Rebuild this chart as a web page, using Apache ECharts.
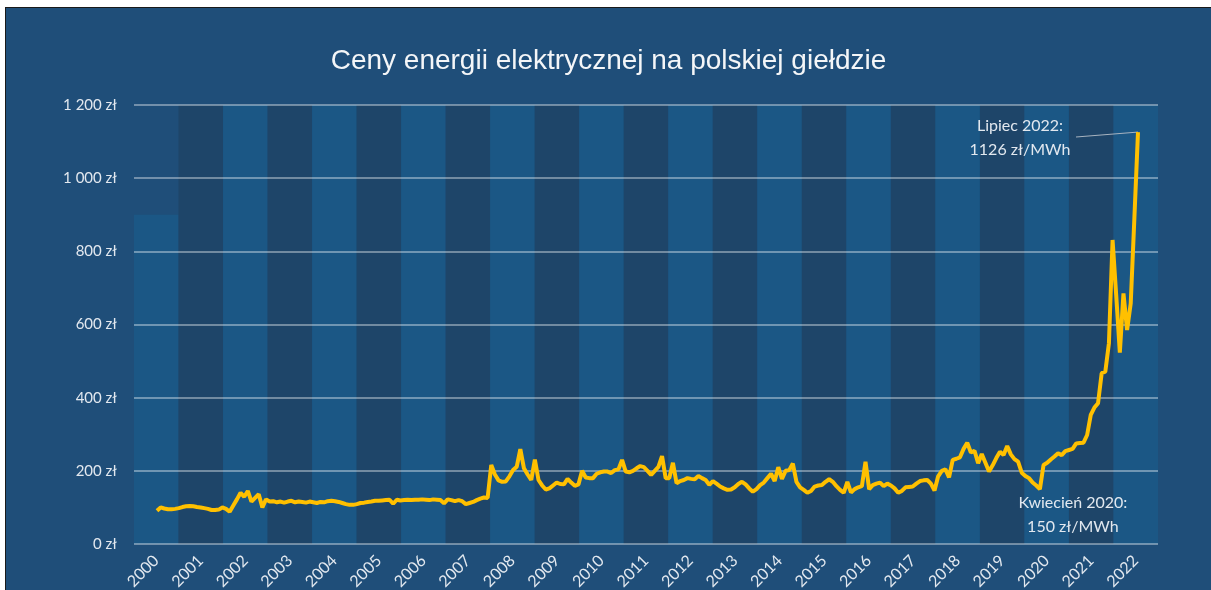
<!DOCTYPE html>
<html>
<head>
<meta charset="utf-8">
<script src="https://cdn.jsdelivr.net/npm/echarts@6/dist/echarts.min.js"></script>
<style>
  html, body { margin: 0; padding: 0; background: #fff; width: 1211px; height: 590px; overflow: hidden; }
  #chart { position: absolute; left: 5px; top: 7px; width: 1205px; height: 582px;
           border-left: 1px solid #1a1a1a; border-top: 1px solid #1a1a1a; }
</style>
</head>
<body>
<div id="chart"></div>
<script>
// lata (pasy w tle) i ich wysokości
const years = ["2000","2001","2002","2003","2004","2005","2006","2007","2008","2009","2010","2011",
  "2012","2013","2014","2015","2016","2017","2018","2019","2020","2021","2022"];
const bandHeights = [900, 1200, 1200, 1200, 1200, 1200, 1200, 1200, 1200, 1200, 1200, 1200,
  1200, 1200, 1200, 1200, 1200, 1200, 1200, 1200, 1200, 1200, 1200];

// średnie miesięczne ceny (zł/MWh), styczeń 2000 - lipiec 2022
const prices = [
  91, 100, 97, 95, 95, 96, 98, 101, 103, 104, 103, 101,       // 2000
  100, 98, 96, 93, 93, 94, 100, 96, 88, 105, 122, 140,        // 2001
  129, 145, 116, 126, 136, 100, 122, 116, 117, 114, 116, 113, // 2002
  116, 118, 114, 116, 115, 113, 116, 114, 112, 115, 114, 117, // 2003
  118, 117, 115, 112, 109, 107, 107, 109, 112, 113, 115, 116, // 2004
  118, 118, 119, 120, 121, 110, 121, 119, 120, 121, 120, 121, // 2005
  121, 122, 121, 120, 122, 121, 120, 111, 122, 120, 117, 120, // 2006
  117, 109, 112, 115, 120, 124, 127, 126, 216, 190, 174, 170, // 2007
  171, 185, 202, 211, 259, 207, 190, 175, 231, 175, 160, 149, // 2008
  152, 160, 168, 164, 163, 178, 168, 159, 163, 200, 182, 180, // 2009
  180, 192, 196, 198, 198, 194, 202, 204, 230, 198, 196, 200, // 2010
  207, 213, 210, 200, 189, 200, 211, 240, 180, 180, 222, 166, // 2011
  172, 175, 180, 178, 177, 186, 180, 175, 162, 172, 165, 157, // 2012
  152, 148, 149, 155, 164, 170, 163, 152, 143, 150, 161, 168, // 2013
  180, 192, 172, 210, 178, 200, 202, 220, 170, 155, 148, 140, // 2014
  145, 157, 160, 161, 170, 177, 170, 158, 148, 140, 170, 141, // 2015
  150, 155, 158, 225, 150, 161, 165, 168, 158, 165, 160, 152, // 2016
  140, 145, 155, 156, 157, 165, 172, 174, 175, 165, 146, 185, // 2017
  200, 204, 182, 230, 233, 237, 260, 277, 250, 255, 221, 246, // 2018
  222, 198, 215, 235, 252, 243, 268, 245, 232, 225, 195, 186, // 2019
  180, 168, 160, 150, 216, 222, 231, 239, 248, 243, 254, 257, // 2020
  260, 275, 276, 277, 298, 353, 373, 385, 467, 471, 549, 831, // 2021
  680, 523, 685, 585, 658, 890, 1126                          // 2022
];

const yTickLabels = ["0 zł", "200 zł", "400 zł", "600 zł", "800 zł", "1 000 zł", "1 200 zł"];

// etykiety miesięcy
const months = [];
years.forEach(y => {
  for (let m = 1; m <= 12; m++) {
    if (months.length < prices.length) months.push(y + "-" + String(m).padStart(2, "0"));
  }
});

const lowIdx = months.indexOf("2020-04");
const lastIdx = prices.length - 1;

const textColor = "#e2e8ef";
const labelFont = "Lato, 'Open Sans', sans-serif";

const chart = echarts.init(document.getElementById("chart"));

const lineData = prices.map((v, i) => {
  if (i === lastIdx) {
    return { value: v, label: { show: true, formatter: "Lipiec 2022:\n" + v + " zł/MWh" } };
  }
  if (i === lowIdx) {
    return { value: v, label: { show: true, formatter: "Kwiecień 2020:\n" + v + " zł/MWh" } };
  }
  return v;
});

chart.setOption({
  backgroundColor: "#1f4e79",
  animation: false,
  title: {
    text: "Ceny energii elektrycznej na polskiej giełdzie",
    left: "center",
    top: 34,
    textStyle: { color: "#f4f6f8", fontSize: 28, fontWeight: "normal", fontFamily: "'Liberation Sans', Arial, sans-serif" }
  },
  grid: [
    { left: 128, right: 53, top: 97, bottom: 46, outerBoundsMode: "none" },
    { left: 151, right: 73, top: 97, bottom: 46, outerBoundsMode: "none" }
  ],
  xAxis: [
    {
      type: "category",
      gridIndex: 0,
      data: years,
      boundaryGap: true,
      axisLine: { show: false },
      axisTick: { show: false },
      axisLabel: { color: textColor, fontSize: 16, fontFamily: labelFont, rotate: 45, margin: 14, interval: 0 }
    },
    {
      type: "category",
      gridIndex: 1,
      data: months,
      boundaryGap: false,
      show: false
    }
  ],
  yAxis: [
    {
      type: "value",
      gridIndex: 0,
      min: 0,
      max: 1200,
      interval: 200,
      z: 3,
      axisLine: { show: false },
      axisTick: { show: false },
      axisLabel: {
        color: textColor, fontSize: 15, fontFamily: labelFont, margin: 17,
        formatter: v => yTickLabels[Math.round(v / 200)]
      },
      splitLine: { lineStyle: { color: "rgba(255,255,255,0.5)", width: 1.5 } }
    },
    {
      type: "value",
      gridIndex: 1,
      min: 0,
      max: 1200,
      interval: 200,
      show: false
    }
  ],
  series: [
    {
      type: "bar",
      xAxisIndex: 0,
      yAxisIndex: 0,
      data: bandHeights,
      barCategoryGap: 0,
      silent: true,
      z: 1,
      itemStyle: { color: p => (p.dataIndex % 2 === 0 ? "#1b5785" : "#1e4569") }
    },
    {
      type: "line",
      xAxisIndex: 1,
      yAxisIndex: 1,
      data: lineData,
      z: 5,
      symbol: "circle",
      symbolSize: 0,
      showSymbol: true,
      showAllSymbol: true,
      lineStyle: { color: "#ffc000", width: 4 },
      itemStyle: { color: "#ffc000" },
      label: {
        show: false,
        position: "inside",
        color: textColor,
        fontSize: 16,
        lineHeight: 24,
        fontFamily: labelFont,
        align: "center",
        verticalAlign: "middle"
      },
      labelLayout: p => {
        if (p.dataIndex === lastIdx) return { dx: -118, dy: 6 };
        if (p.dataIndex === lowIdx) return { dx: 33, dy: 26 };
        return {};
      },
      // linia odnośnika od etykiety do ostatniego punktu
      markLine: {
        silent: true,
        symbol: "none",
        label: { show: false },
        lineStyle: { color: "#a7b3c0", width: 1, type: "solid" },
        data: [[{ coord: [lastIdx, prices[lastIdx]] }, { x: 1070, y: 129 }]]
      }
    }
  ]
});
</script>
</body>
</html>
